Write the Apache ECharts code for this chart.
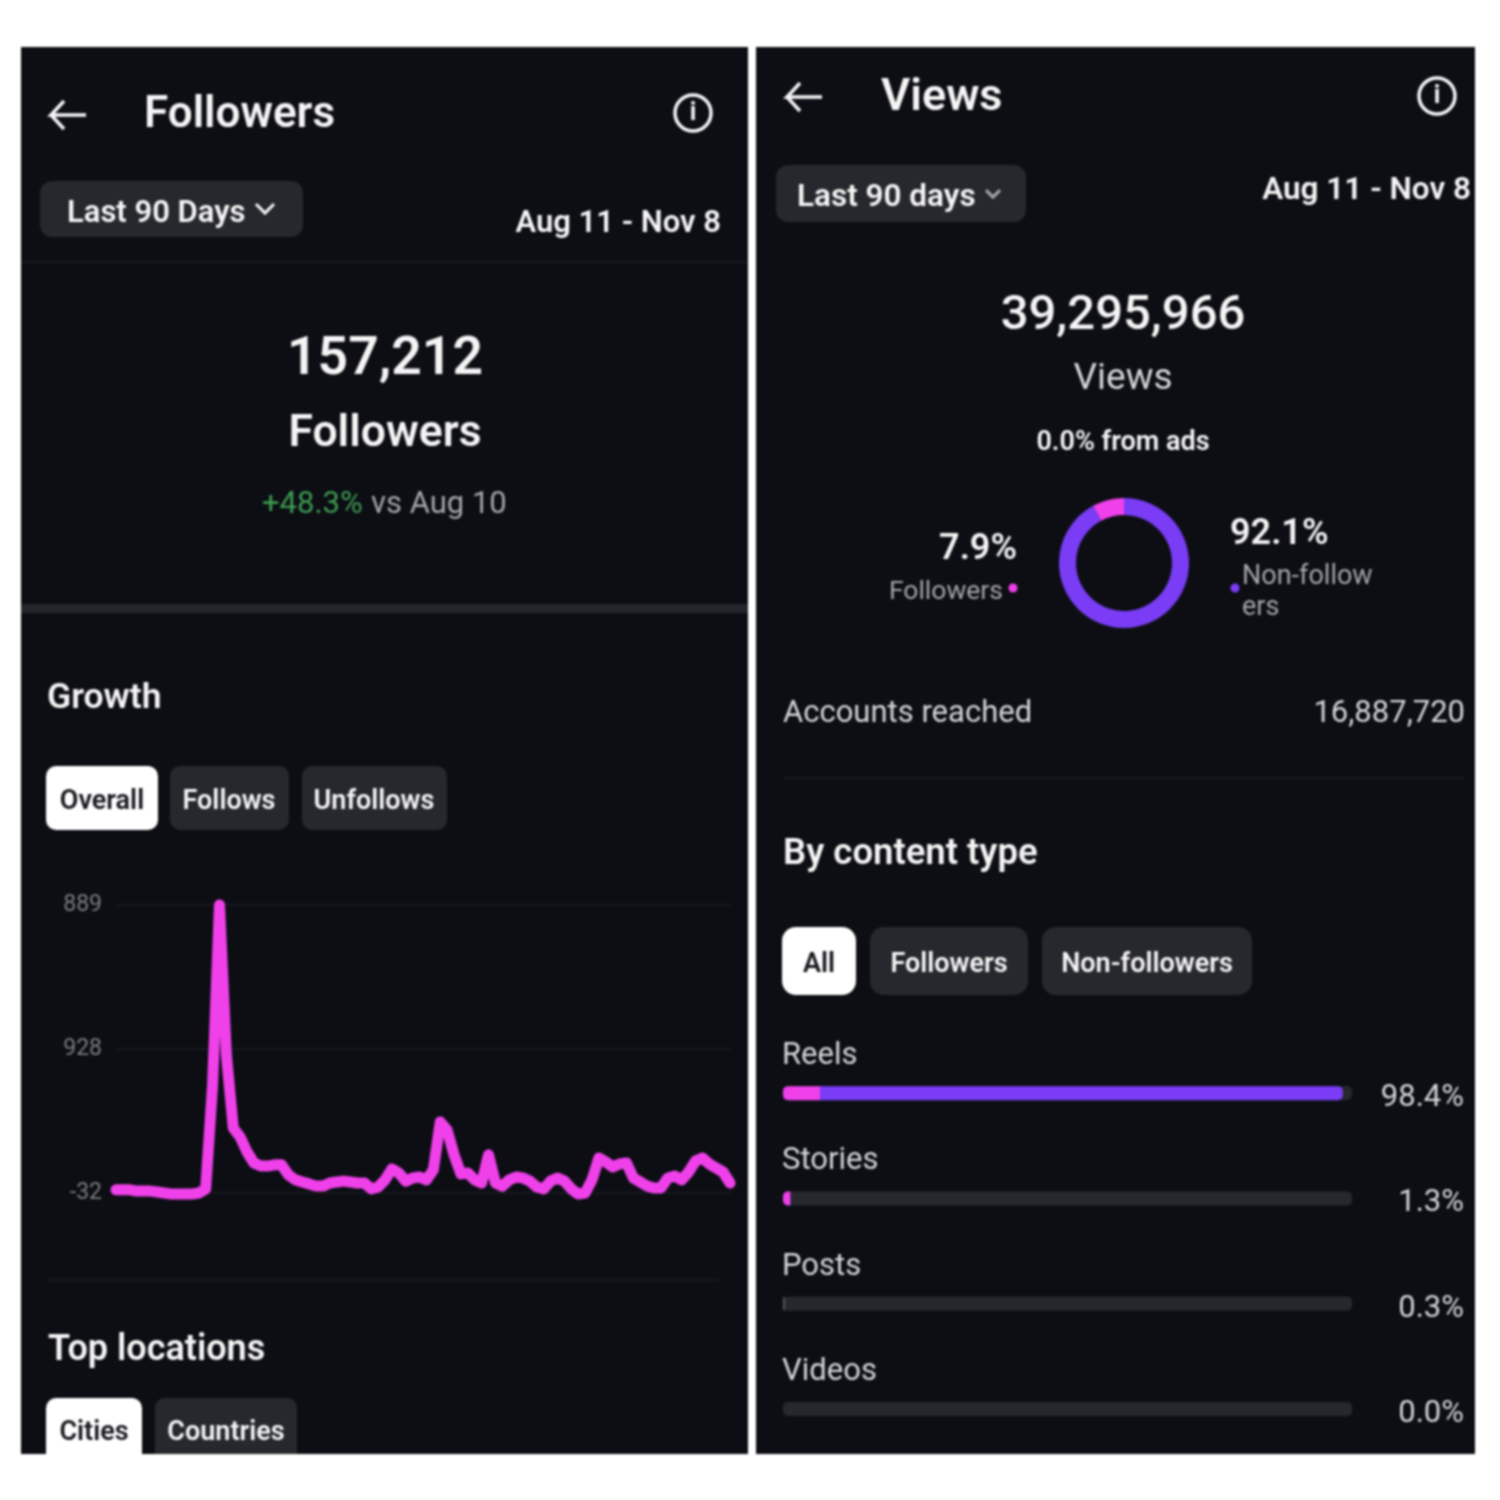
<!DOCTYPE html>
<html><head><meta charset="utf-8">
<style>html,body{margin:0;padding:0;background:#fff}#c{width:1500px;height:1500px;filter:blur(1px)}</style>
<script src="https://cdn.jsdelivr.net/npm/echarts@6/dist/echarts.min.js"></script>
</head><body><div id="c"></div>
<script>
// ---- data ----
const growthDays = ["Aug 11","Aug 12","Aug 13","Aug 14","Aug 15","Aug 16","Aug 17","Aug 18","Aug 19","Aug 20","Aug 21","Aug 22","Aug 23","Aug 24","Aug 25","Aug 26","Aug 27","Aug 28","Aug 29","Aug 30","Aug 31","Sep 1","Sep 2","Sep 3","Sep 4","Sep 5","Sep 6","Sep 7","Sep 8","Sep 9","Sep 10","Sep 11","Sep 12","Sep 13","Sep 14","Sep 15","Sep 16","Sep 17","Sep 18","Sep 19","Sep 20","Sep 21","Sep 22","Sep 23","Sep 24","Sep 25","Sep 26","Sep 27","Sep 28","Sep 29","Sep 30","Oct 1","Oct 2","Oct 3","Oct 4","Oct 5","Oct 6","Oct 7","Oct 8","Oct 9","Oct 10","Oct 11","Oct 12","Oct 13","Oct 14","Oct 15","Oct 16","Oct 17","Oct 18","Oct 19","Oct 20","Oct 21","Oct 22","Oct 23","Oct 24","Oct 25","Oct 26","Oct 27","Oct 28","Oct 29","Oct 30","Oct 31","Nov 1","Nov 2","Nov 3","Nov 4","Nov 5","Nov 6","Nov 7","Nov 8"];
const growthValues = [-22,-22,-22,-26,-26,-26,-29,-32,-35,-35,-35,-35,-32,-19,313,889,409,176,147,99,64,54,54,58,58,26,10,3,-3,-10,-10,0,3,6,3,0,0,-19,-13,10,45,32,6,16,19,10,42,195,169,90,29,32,10,0,90,0,-10,10,19,16,6,-13,-19,6,16,6,-19,-35,-32,10,80,67,51,61,64,16,3,-10,-16,-16,16,22,10,35,70,80,61,48,35,0];
const growthTickValues = [-32,428,889];
const growthTickLabels = ["-32","928","889"];
const audienceNames = ["Non-followers","Followers"];
const audienceShares = [92.1,7.9];
const contentTypes = ["Reels","Stories","Posts","Videos"];
const contentTotals = [98.4,1.3,0.3,0.0];
const contentFollowers = [6.5,1.3,0.3,0.0];
const contentNonFollowers = [91.9,0,0,0];

// ---- palette ----
const BG='#0c0e14', PILL='#26282d', WHITE='#f5f5f5', GREY='#a5a6a9', PINK='#ef40ea', PURPLE='#7a3cf5';
const FONT='Roboto';

const t=(x,y,text,size,fill,weight,align)=>({type:'text',x,y:y+5,z:5,style:{text,font:`${weight||500} ${size}px ${FONT}`,fill:fill||WHITE,textAlign:align||'left',textVerticalAlign:'middle'}});
const r=(x,y,w,h,fill,rad)=>({type:'rect',z:2,shape:{x,y,width:w,height:h,r:rad||0},style:{fill}});
const arrow=(x,y,w)=>({type:'polyline',z:5,shape:{points:[[x+w,y],[x+2,y],[x+15,y-14],[x+2,y],[x+15,y+14]]},style:{stroke:WHITE,fill:null,lineWidth:3.5}});
const chev=(x,y,s,c)=>({type:'polyline',z:5,shape:{points:[[x-s,y-s*0.55],[x,y+s*0.45],[x+s,y-s*0.55]]},style:{stroke:c||WHITE,fill:null,lineWidth:3}});
const info=(x,y)=>[{type:'circle',z:5,shape:{cx:x,cy:y,r:18},style:{stroke:WHITE,fill:null,lineWidth:3.5}},t(x,y-4,'i',25,WHITE,700,'center')];

const elements=[
 r(21,47,727,1407,BG), r(756,47,719,1407,BG),
 // left panel
 arrow(49,115,37), t(144,111,'Followers',44,WHITE,600), ...info(693,113),
 r(40,181,263,56,PILL,12), t(67,209,'Last 90 Days',31,WHITE,600), chev(265,209,9),
 t(721,219,'Aug 11 - Nov 8',31,WHITE,600,'right'),
 r(21,261,727,2,'#17191e'),
 t(385,356,'157,212',53.5,WHITE,600,'center'),
 t(385,430,'Followers',44.5,WHITE,600,'center'),
 t(262,500,'+48.3%',31,'#3d9a50',400), t(371,500,'vs Aug 10',31,GREY,400),
 r(21,604,727,9,'#24262b'),
 t(47,694,'Growth',35.5,WHITE,600),
 r(46,766,112,64,'#ffffff',10), t(102,797,'Overall',27,'#17181c',600,'center'),
 r(170,766,119,64,PILL,10), t(229,797,'Follows',27,WHITE,600,'center'),
 r(302,766,145,64,PILL,10), t(374,797,'Unfollows',27,WHITE,600,'center'),
 r(47,1279,672,2,'#17191e'),
 t(48,1346,'Top locations',36,WHITE,600),
 {type:'rect',z:2,shape:{x:46,y:1398,width:96,height:56,r:[10,10,0,0]},style:{fill:'#fff'}}, t(94,1428,'Cities',27,'#17181c',600,'center'),
 {type:'rect',z:2,shape:{x:155,y:1398,width:142,height:56,r:[10,10,0,0]},style:{fill:PILL}}, t(226,1428,'Countries',27,WHITE,600,'center'),
 // right panel
 arrow(785,97,37), t(881,94,'Views',45,WHITE,600), ...info(1437,96),
 r(776,165,250,57,PILL,12), t(797,193,'Last 90 days',31.5,WHITE,600), chev(993,194,7,GREY),
 t(1471,186,'Aug 11 - Nov 8',31.5,WHITE,600,'right'),
 t(1123,312,'39,295,966',49,WHITE,500,'center'),
 t(1123,375,'Views',37,'#d5d5d7',400,'center'),
 t(1123,438,'0.0% from ads',27,WHITE,600,'center'),
 t(1017,545,audienceShares[1]+'%',36,WHITE,600,'right'),
 t(1003,587,audienceNames[1],26.5,GREY,400,'right'),
 {type:'circle',z:5,shape:{cx:1013,cy:588,r:4.5},style:{fill:PINK}},
 t(1230,530,audienceShares[0]+'%',36,WHITE,600),
 {type:'circle',z:5,shape:{cx:1235,cy:588,r:4.5},style:{fill:PURPLE}},
 t(1242,572,'Non-follow',27,GREY,400), t(1242,603,'ers',27,GREY,400),
 t(783,709,'Accounts reached',31,'#d5d5d7',400), t(1465,709,'16,887,720',31,'#d5d5d7',400,'right'),
 r(783,777,682,2,'#17191e'),
 t(783,850,'By content type',36.5,WHITE,600),
 r(782,927,74,68,'#ffffff',14), t(819,960,'All',27,'#17181c',600,'center'),
 r(870,927,158,68,PILL,14), t(949,960,'Followers',27,WHITE,600,'center'),
 r(1042,927,210,68,PILL,14), t(1147,960,'Non-followers',27,WHITE,600,'center')
];
const barY=[1093,1198,1304,1409];
contentTypes.forEach((n,i)=>{
 elements.push(t(782,barY[i]-42,n,31,'#d5d5d7',400));
 elements.push(t(1464,barY[i],contentTotals[i].toFixed(1)+'%',31,'#d5d5d7',400,'right'));
});

const chart=echarts.init(document.getElementById('c'),null,{renderer:'canvas',width:1500,height:1500});
chart.setOption({
 animation:false,
 backgroundColor:'#fff',
 graphic:{elements},
 grid:[
  {left:116,top:905,width:614,height:288},
  {left:783,top:1040.5,width:569,height:421}
 ],
 xAxis:[
  {gridIndex:0,type:'category',data:growthDays,boundaryGap:false,show:false},
  {gridIndex:1,type:'value',min:0,max:100,show:false}
 ],
 yAxis:[
  {gridIndex:0,type:'value',min:-32,max:889,z:3,
   axisLine:{show:false},axisTick:{show:false,customValues:growthTickValues},
   axisLabel:{customValues:growthTickValues,margin:14,color:'#7b7c7f',fontFamily:FONT,fontSize:23,verticalAlignMinLabel:'middle',verticalAlignMaxLabel:'middle',
    formatter:v=>growthTickLabels[growthTickValues.indexOf(v)]},
   splitLine:{show:true,lineStyle:{color:'#16181d',width:2}}},
  {gridIndex:1,type:'category',data:contentTypes,inverse:true,show:false}
 ],
 series:[
  {type:'line',xAxisIndex:0,yAxisIndex:0,data:growthValues,showSymbol:false,z:4,clip:false,
   lineStyle:{color:PINK,width:11,cap:'round',join:'round'}},
  {type:'pie',center:[1124,563],radius:[48,65],startAngle:90,clockwise:true,silent:true,label:{show:false},z:4,
   data:audienceNames.map((n,i)=>({name:n,value:audienceShares[i],itemStyle:{color:i?PINK:PURPLE}}))},
  {type:'bar',name:'Followers',xAxisIndex:1,yAxisIndex:1,stack:'c',barWidth:14,z:4,
   data:contentFollowers.map((v,i)=>i===2?{value:v,itemStyle:{color:'#5a5b60'}}:v),
   showBackground:true,backgroundStyle:{color:'#26282d',borderRadius:5},itemStyle:{color:PINK,borderRadius:[5,0,0,5]}},
  {type:'bar',name:'Non-followers',xAxisIndex:1,yAxisIndex:1,stack:'c',data:contentNonFollowers,barWidth:14,z:4,itemStyle:{color:PURPLE,borderRadius:[0,5,5,0]}}
 ]
});
</script></body></html>
